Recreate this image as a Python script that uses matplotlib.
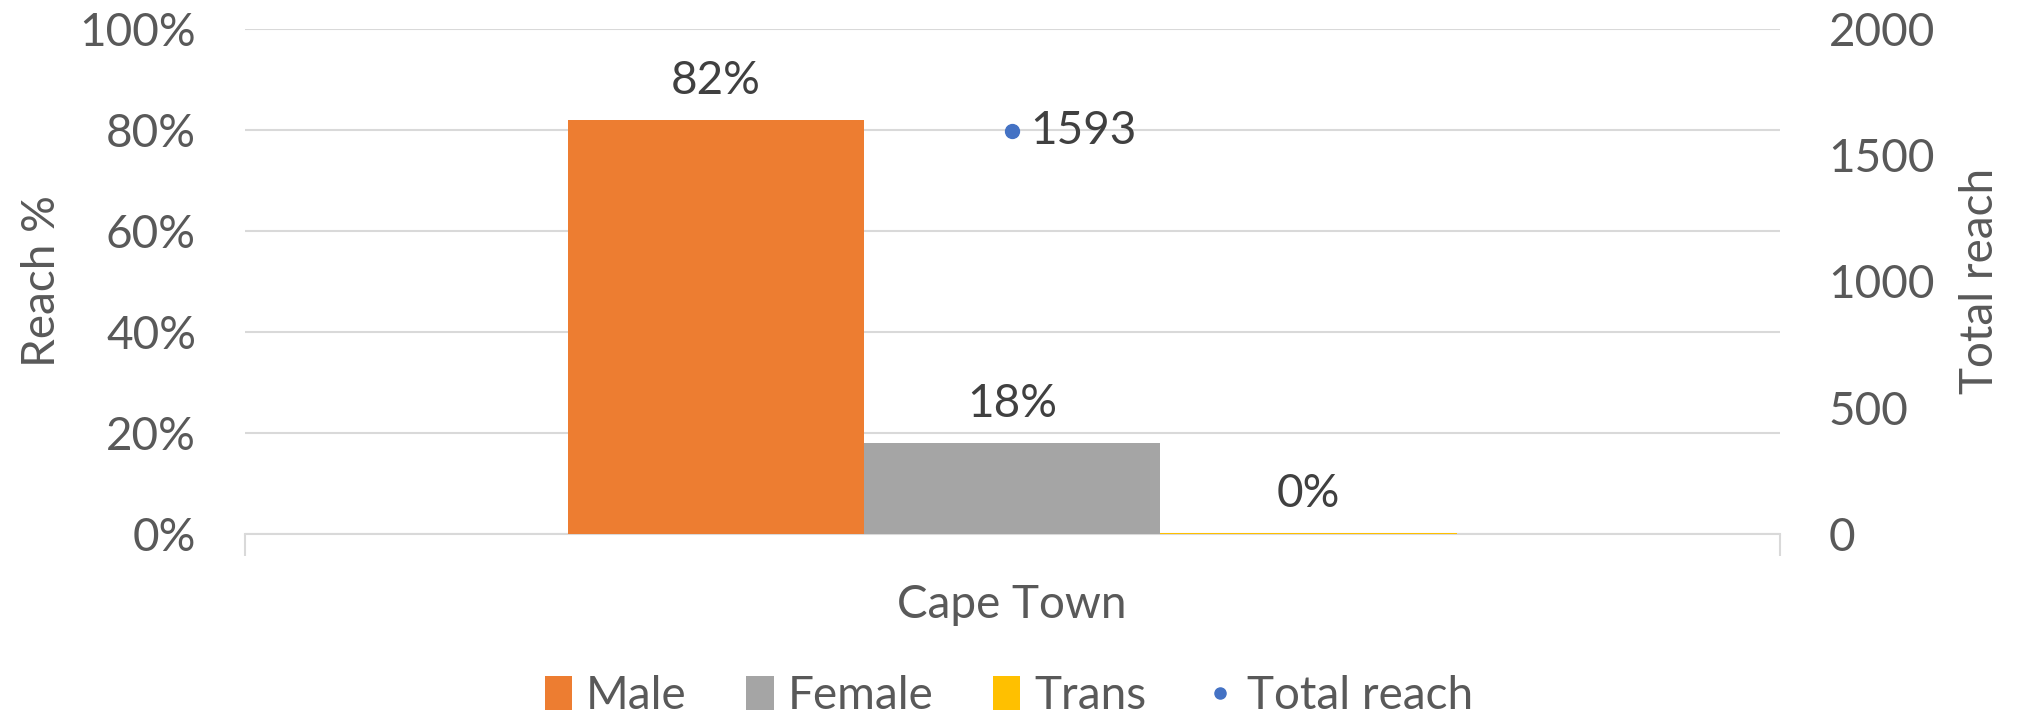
import matplotlib
matplotlib.use("Agg")
import matplotlib.pyplot as plt
from matplotlib.patches import Patch
from matplotlib.lines import Line2D

plt.rcParams["font.family"] = ["Lato", "DejaVu Sans"]

# data
category = "Cape Town"
series = ["Male", "Female", "Trans"]
reach_pct = [0.82, 0.18, 0.003]
pct_labels = ["82%", "18%", "0%"]
bar_colors = ["#ED7D31", "#A5A5A5", "#FFC000"]
total_reach = 1593
pct_ticks = [0, 0.2, 0.4, 0.6, 0.8, 1.0]
pct_ticklabels = ["0%", "20%", "40%", "60%", "80%", "100%"]
reach_ticks = [0, 500, 1000, 1500, 2000]

TICK_COLOR = "#595959"
LABEL_COLOR = "#404040"
GRID_COLOR = "#D9D9D9"
FS = 33

fig = plt.figure(figsize=(20.18, 7.14), dpi=100)
ax = fig.add_axes([0.1212, 0.252, 0.7608, 0.708])
ax2 = ax.twinx()

bar_w = 0.193
offsets = [-bar_w, 0.0, bar_w]
bars = ax.bar(offsets, reach_pct, width=bar_w, color=bar_colors, zorder=3)
for b, lab in zip(bars, pct_labels):
    ax.text(b.get_x() + b.get_width() / 2, b.get_height() + 0.035, lab,
            ha="center", va="bottom", fontsize=FS, color=LABEL_COLOR)

ax.set_xlim(-0.5, 0.5)
ax.set_ylim(0, 1.0)
ax.set_yticks(pct_ticks)
ax.set_yticklabels(pct_ticklabels)
ax.set_xticks([-0.5, 0.5])
ax.set_xticklabels(["", ""])
ax.tick_params(axis="x", length=16, width=1.5, color=GRID_COLOR, direction="out")
ax.tick_params(axis="y", length=0, pad=35, labelsize=FS, labelcolor=TICK_COLOR)
ax.grid(axis="y", color=GRID_COLOR, linewidth=1.5, zorder=0)
ax.set_axisbelow(True)
for s in ["top", "right", "left"]:
    ax.spines[s].set_visible(False)
ax.spines["bottom"].set_color(GRID_COLOR)
ax.spines["bottom"].set_linewidth(1.5)
ax.set_ylabel("Reach %", fontsize=FS, color=TICK_COLOR, labelpad=12)
ax.text(0, -0.14, category, transform=ax.get_xaxis_transform(),
        ha="center", va="center", fontsize=FS, color=TICK_COLOR)

ax2.plot([0.0], [total_reach], "o", color="#4472C4", markersize=10, zorder=4)
ax2.annotate(str(total_reach), (0.0, total_reach), xytext=(13, 0),
             textcoords="offset points", ha="left", va="center",
             fontsize=FS, color=LABEL_COLOR)
ax2.set_ylim(0, 2000)
ax2.set_yticks(reach_ticks)
ax2.tick_params(axis="y", length=0, pad=35, labelsize=FS, labelcolor=TICK_COLOR)
for s in ["top", "right", "left", "bottom"]:
    ax2.spines[s].set_visible(False)
ax2.set_ylabel("Total reach", fontsize=FS, color=TICK_COLOR, labelpad=17)

handles = [Patch(facecolor=c, label=n) for c, n in zip(bar_colors, series)]
handles.append(Line2D([], [], marker="o", linestyle="none", color="#4472C4",
                      markersize=8, label="Total reach"))
leg = fig.legend(handles=handles, loc="lower center", ncol=4, frameon=False,
                 bbox_to_anchor=(0.5, -0.062), fontsize=FS, handlelength=0.6,
                 handleheight=0.75, handletextpad=0.3, columnspacing=1.3)
for t in leg.get_texts():
    t.set_color(TICK_COLOR)

fig.savefig("out.png", dpi=100)
